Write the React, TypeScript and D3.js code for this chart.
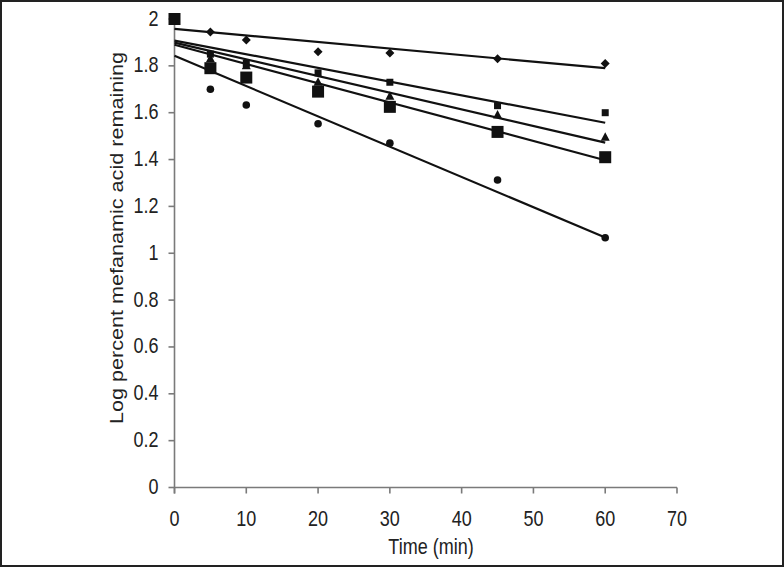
import React from "react";
import * as d3 from "d3";

const times = [0, 5, 10, 20, 30, 45, 60];
const diamondVals = [2.0, 1.944, 1.91, 1.86, 1.855, 1.83, 1.81];
const smallSquareVals = [2.0, 1.85, 1.81, 1.77, 1.73, 1.63, 1.6];
const triangleVals = [2.0, 1.83, 1.8, 1.73, 1.67, 1.59, 1.495];
const bigSquareVals = [2.0, 1.79, 1.75, 1.69, 1.625, 1.518, 1.41];
const circleVals = [2.0, 1.7, 1.633, 1.553, 1.47, 1.313, 1.066];

// fitted regression lines: value at t=0 and t=60
const fitTimes = [0, 60];
const diamondFit = [1.958, 1.79];
const smallSquareFit = [1.908, 1.557];
const triangleFit = [1.899, 1.472];
const bigSquareFit = [1.89, 1.397];
const circleFit = [1.843, 1.067];

const xTicks = [0, 10, 20, 30, 40, 50, 60, 70];
const yTicks = [0, 0.2, 0.4, 0.6, 0.8, 1, 1.2, 1.4, 1.6, 1.8, 2];

const W = 784;
const H = 567;
const FONT = "'Liberation Sans', Arial, sans-serif";

export default function App() {
  const x = d3.scaleLinear().domain([0, 70]).range([174.5, 677]);
  const y = d3.scaleLinear().domain([0, 2]).range([487.5, 19]);
  const line = d3
    .line<number>()
    .x((_, i) => x(fitTimes[i]))
    .y((d) => y(d));

  const series = [
    { vals: diamondVals, fit: diamondFit, shape: "diamond" },
    { vals: smallSquareVals, fit: smallSquareFit, shape: "smallSquare" },
    { vals: triangleVals, fit: triangleFit, shape: "triangle" },
    { vals: circleVals, fit: circleFit, shape: "circle" },
    { vals: bigSquareVals, fit: bigSquareFit, shape: "bigSquare" },
  ];

  const marker = (shape: string, cx: number, cy: number, key: string) => {
    switch (shape) {
      case "diamond":
        return (
          <path
            key={key}
            d={`M${cx},${cy - 4.5}L${cx + 4.5},${cy}L${cx},${cy + 4.5}L${cx - 4.5},${cy}Z`}
            fill="#111"
          />
        );
      case "smallSquare":
        return <rect key={key} x={cx - 3.5} y={cy - 3.5} width={7} height={7} fill="#111" />;
      case "triangle":
        return (
          <path
            key={key}
            d={`M${cx},${cy - 5}L${cx + 4.5},${cy + 3.5}L${cx - 4.5},${cy + 3.5}Z`}
            fill="#111"
          />
        );
      case "circle":
        return <circle key={key} cx={cx} cy={cy} r={3.8} fill="#111" />;
      case "bigSquare":
        return <rect key={key} x={cx - 6} y={cy - 6} width={12} height={12} fill="#111" />;
    }
    return null;
  };

  return (
    <svg
      width={W}
      height={H}
      style={{ position: "absolute", left: 0, top: 0, background: "#fff" }}
    >
      <rect x={1} y={1} width={W - 2} height={H - 2} fill="#fff" stroke="#222" strokeWidth={2} />

      {/* axes */}
      <g stroke="#7a7a7a" strokeWidth={1.6} fill="none">
        <line x1={x(0)} x2={x(0)} y1={y(2)} y2={y(0) + 6} />
        <line x1={x(0)} x2={x(70)} y1={y(0)} y2={y(0)} />
        {yTicks.map((t) => (
          <line key={"yt" + t} x1={x(0) - 6} x2={x(0)} y1={y(t)} y2={y(t)} />
        ))}
        {xTicks.map((t) => (
          <line key={"xt" + t} x1={x(t)} x2={x(t)} y1={y(0)} y2={y(0) + 6} />
        ))}
      </g>

      {/* tick labels */}
      <g fontFamily={FONT} fontSize={18} fill="#222">
        {yTicks.map((t) => (
          <text
            key={"yl" + t}
            transform={`translate(${x(0) - 16},${y(t) + 6.5}) scale(1,1.2)`}
            textAnchor="end"
          >
            {String(+t.toFixed(1))}
          </text>
        ))}
        {xTicks.map((t) => (
          <text
            key={"xl" + t}
            transform={`translate(${x(t)},${526}) scale(1,1.2)`}
            textAnchor="middle"
          >
            {String(t)}
          </text>
        ))}
        <text transform={`translate(431,554) scale(1,1.2)`} textAnchor="middle">
          Time (min)
        </text>
        <text
          transform={`translate(123,238) scale(1,1.2) rotate(-90)`}
          textAnchor="middle"
        >
          Log percent mefanamic acid remaining
        </text>
      </g>

      {/* fit lines */}
      <g stroke="#111" strokeWidth={2.2} fill="none">
        {series.map((s, i) => (
          <path key={"ln" + i} d={line(s.fit) || ""} />
        ))}
      </g>

      {/* markers */}
      <g>
        {series.map((s, i) =>
          s.vals.map((v, j) => marker(s.shape, x(times[j]), y(v), `m${i}-${j}`))
        )}
      </g>
    </svg>
  );
}
